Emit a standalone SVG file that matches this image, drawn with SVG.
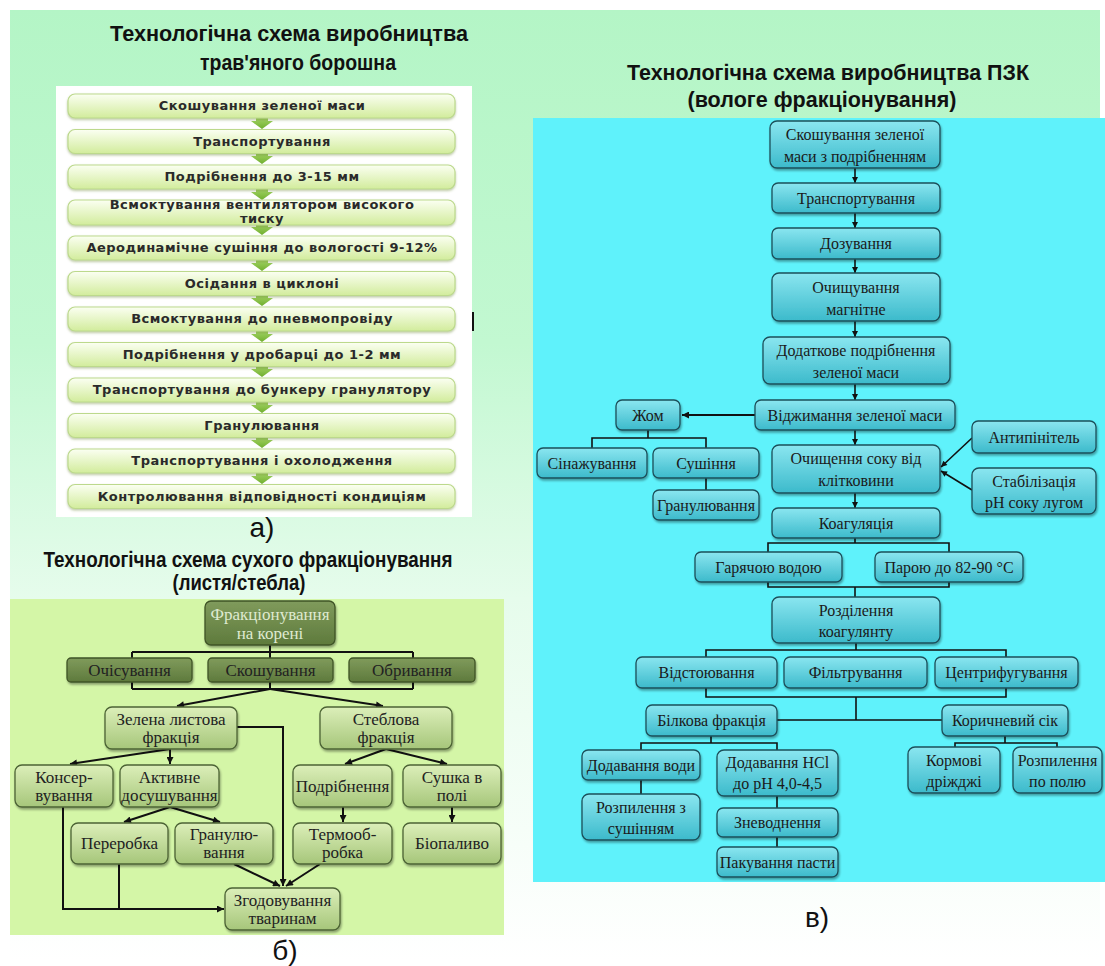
<svg xmlns="http://www.w3.org/2000/svg" width="1105" height="966" viewBox="0 0 1105 966">
<defs>
<linearGradient id="bgG" x1="0" y1="0" x2="0" y2="1">
<stop offset="0" stop-color="#b4f5c6"/><stop offset="0.35" stop-color="#c2f8d1"/><stop offset="0.62" stop-color="#e6fcec"/><stop offset="1" stop-color="#ffffff"/>
</linearGradient>
<linearGradient id="aG" x1="0" y1="0" x2="0" y2="1"><stop offset="0" stop-color="#fbfff2"/><stop offset="1" stop-color="#d2ec9c"/></linearGradient>
<linearGradient id="arG" x1="0" y1="0" x2="0" y2="1"><stop offset="0" stop-color="#a9d86a"/><stop offset="1" stop-color="#6fae2e"/></linearGradient>
<linearGradient id="bG" x1="0" y1="0" x2="0" y2="1"><stop offset="0" stop-color="#dcefb9"/><stop offset="1" stop-color="#a6c67a"/></linearGradient>
<linearGradient id="dG" x1="0" y1="0" x2="0" y2="1"><stop offset="0" stop-color="#809b5c"/><stop offset="1" stop-color="#5e7a3c"/></linearGradient>
<linearGradient id="cG" x1="0" y1="0" x2="0" y2="1"><stop offset="0" stop-color="#8ae6f0"/><stop offset="1" stop-color="#3cbacb"/></linearGradient>
<filter id="sh" x="-10%" y="-10%" width="120%" height="130%"><feDropShadow dx="1" dy="2" stdDeviation="1.2" flood-color="#000" flood-opacity="0.35"/></filter>
<filter id="shA" x="-5%" y="-10%" width="110%" height="140%"><feDropShadow dx="0" dy="1.5" stdDeviation="1.2" flood-color="#6d8a3a" flood-opacity="0.45"/></filter>
<marker id="ah" viewBox="0 0 10 10" refX="10" refY="5" markerWidth="8" markerHeight="7" markerUnits="userSpaceOnUse" orient="auto"><path d="M0,0 L10,5 L0,10 z" fill="#111"/></marker>
<marker id="ahc" viewBox="0 0 10 10" refX="10" refY="5" markerWidth="8" markerHeight="6" markerUnits="userSpaceOnUse" orient="auto"><path d="M0,0 L10,5 L0,10 z" fill="#111"/></marker>
<style>
.ttl{font-family:"Liberation Sans",Arial,sans-serif;font-weight:bold;font-size:22px;fill:#111;text-anchor:middle}
.lbl{font-family:"Liberation Sans",Arial,sans-serif;font-size:28px;fill:#111;text-anchor:middle}
.ab{fill:url(#aG);stroke:#bcd98c;stroke-width:1.2;filter:url(#shA)}
.at{font-family:"DejaVu Sans",Verdana,sans-serif;font-weight:bold;font-size:13px;letter-spacing:0.5px;fill:#2a2a2a;text-anchor:middle}
.arr{fill:url(#arG)}
.bb{fill:url(#bG);stroke:#4c6334;stroke-width:1.3;filter:url(#sh)}
.bd{fill:url(#dG);stroke:#3f5426;stroke-width:1.3;filter:url(#sh)}
.bt{font-family:"Liberation Serif","Times New Roman",serif;font-size:17px;fill:#222;text-anchor:middle}
.btl{font-family:"Liberation Serif","Times New Roman",serif;font-size:17px;fill:#dfead0;text-anchor:middle}
.cb{fill:url(#cG);stroke:#1b4f5a;stroke-width:1.3;filter:url(#sh)}
.ct{font-family:"Liberation Serif","Times New Roman",serif;font-size:16px;fill:#1a1a1a;text-anchor:middle}
.ln{fill:none;stroke:#111;stroke-width:2}
.lnc{fill:none;stroke:#111;stroke-width:1.6}
</style>
</defs>

<g id="background">
<rect x="0" y="0" width="1105" height="966" fill="#ffffff"/>
<rect x="10" y="10" width="1090" height="950" fill="url(#bgG)"/>
<rect x="56" y="86" width="416" height="431" fill="#ffffff"/>
<rect x="10" y="599" width="494" height="336" fill="#d4f6a7"/>
<rect x="533" y="118" width="572" height="764" fill="#5ff2fb"/>
<rect x="472" y="312" width="2" height="19" fill="#111"/>
</g>

<g id="titles">
<text class="ttl" x="289" y="41" textLength="358" lengthAdjust="spacingAndGlyphs">Технологічна схема виробництва</text>
<text class="ttl" x="298" y="70" textLength="196" lengthAdjust="spacingAndGlyphs">трав'яного борошна</text>
<text class="ttl" x="248" y="567" font-size="20" textLength="409" lengthAdjust="spacingAndGlyphs">Технологічна схема сухого фракціонування</text>
<text class="ttl" x="239" y="590" font-size="20" textLength="133" lengthAdjust="spacingAndGlyphs">(листя/стебла)</text>
<text class="ttl" x="828" y="80" textLength="402" lengthAdjust="spacingAndGlyphs">Технологічна схема виробництва ПЗК</text>
<text class="ttl" x="822" y="107" textLength="269" lengthAdjust="spacingAndGlyphs">(вологе фракціонування)</text>
<text class="lbl" x="262" y="537">а)</text>
<text class="lbl" x="285" y="960">б)</text>
<text class="lbl" x="817" y="927" font-size="26">в)</text>
</g>

<!-- Panel a -->
<g id="a-arrows">
<polygon class="arr" points="256,117 268,117 268,121 273,121 262,129 251,121 256,121"/>
<polygon class="arr" points="256,152 268,152 268,156 273,156 262,164 251,156 256,156"/>
<polygon class="arr" points="256,188 268,188 268,192 273,192 262,200 251,192 256,192"/>
<polygon class="arr" points="256,223 268,223 268,227 273,227 262,235 251,227 256,227"/>
<polygon class="arr" points="256,259 268,259 268,263 273,263 262,271 251,263 256,263"/>
<polygon class="arr" points="256,294 268,294 268,298 273,298 262,306 251,298 256,298"/>
<polygon class="arr" points="256,330 268,330 268,334 273,334 262,342 251,334 256,334"/>
<polygon class="arr" points="256,365 268,365 268,369 273,369 262,377 251,369 256,369"/>
<polygon class="arr" points="256,401 268,401 268,405 273,405 262,413 251,405 256,405"/>
<polygon class="arr" points="256,436 268,436 268,440 273,440 262,448 251,440 256,440"/>
<polygon class="arr" points="256,472 268,472 268,476 273,476 262,484 251,476 256,476"/>
</g>
<g id="a1"><rect class="ab" x="68" y="94" width="387" height="24" rx="7"/><text class="at" x="262" y="110">Скошування зеленої маси</text></g>
<g id="a2"><rect class="ab" x="68" y="129.5" width="387" height="24" rx="7"/><text class="at" x="262" y="146">Транспортування</text></g>
<g id="a3"><rect class="ab" x="68" y="165" width="387" height="24" rx="7"/><text class="at" x="262" y="181">Подрібнення до 3-15 мм</text></g>
<g id="a4"><rect class="ab" x="68" y="200" width="387" height="25" rx="7"/><text class="at" x="262" y="208.5" font-size="11.5">Всмоктування вентилятором високого</text><text class="at" x="262" y="222.5" font-size="10.5">тиску</text></g>
<g id="a5"><rect class="ab" x="68" y="236" width="387" height="24" rx="7"/><text class="at" x="262" y="252">Аеродинамічне сушіння  до вологості 9-12%</text></g>
<g id="a6"><rect class="ab" x="68" y="271.5" width="387" height="24" rx="7"/><text class="at" x="262" y="288">Осідання в циклоні</text></g>
<g id="a7"><rect class="ab" x="68" y="307" width="387" height="24" rx="7"/><text class="at" x="262" y="323">Всмоктування до пневмопровіду</text></g>
<g id="a8"><rect class="ab" x="68" y="342.5" width="387" height="24" rx="7"/><text class="at" x="262" y="359">Подрібнення у дробарці до 1-2 мм</text></g>
<g id="a9"><rect class="ab" x="68" y="378" width="387" height="24" rx="7"/><text class="at" x="262" y="394">Транспортування до бункеру гранулятору</text></g>
<g id="a10"><rect class="ab" x="68" y="413.5" width="387" height="24" rx="7"/><text class="at" x="262" y="430">Гранулювання</text></g>
<g id="a11"><rect class="ab" x="68" y="449" width="387" height="24" rx="7"/><text class="at" x="262" y="465">Транспортування і охолодження</text></g>
<g id="a12"><rect class="ab" x="68" y="484.5" width="387" height="24" rx="7"/><text class="at" x="262" y="501">Контролювання відповідності кондиціям</text></g>

<!-- Panel b connectors -->
<g id="b-connectors">
<path class="ln" d="M270,645 V689 M132,652 H413 M132,652 V689 M413,652 V689 M132,689 H413"/>
<path class="ln" d="M270,689 L177,706" marker-end="url(#ah)"/>
<path class="ln" d="M270,689 L383,706" marker-end="url(#ah)"/>
<path class="ln" d="M170,749 L70,764" marker-end="url(#ah)"/>
<path class="ln" d="M170,749 V764" marker-end="url(#ah)"/>
<path class="ln" d="M170,807 L124,822" marker-end="url(#ah)"/>
<path class="ln" d="M170,807 L220,822" marker-end="url(#ah)"/>
<path class="ln" d="M386,749 L345,764" marker-end="url(#ah)"/>
<path class="ln" d="M386,749 L447,764" marker-end="url(#ah)"/>
<path class="ln" d="M343,807 V822" marker-end="url(#ah)"/>
<path class="ln" d="M452,807 V822" marker-end="url(#ah)"/>
<path class="ln" d="M237,727 H283 V886" marker-end="url(#ah)"/>
<path class="ln" d="M234,864 L280,886" marker-end="url(#ah)"/>
<path class="ln" d="M320,864 L286,886" marker-end="url(#ah)"/>
<path class="ln" d="M63,807 V909 H224" marker-end="url(#ah)"/>
<path class="ln" d="M119,864 V909"/>
</g>
<g id="b-root"><rect class="bd" x="205" y="601" width="130" height="44" rx="6"/><text class="btl" x="270" y="620">Фракціонування</text><text class="btl" x="270" y="639">на корені</text></g>
<g id="b-ochis"><rect class="bd" x="67" y="658" width="125" height="24" rx="4"/><text class="bt" x="129.5" y="676">Очісування</text></g>
<g id="b-skosh"><rect class="bd" x="208" y="658" width="125" height="24" rx="4"/><text class="bt" x="270.5" y="676">Скошування</text></g>
<g id="b-obryv"><rect class="bd" x="349" y="658" width="126" height="24" rx="4"/><text class="bt" x="412" y="676">Обривання</text></g>
<g id="b-zel"><rect class="bb" x="105" y="707" width="132" height="42" rx="7"/><text class="bt" x="171" y="725">Зелена листова</text><text class="bt" x="171" y="743">фракція</text></g>
<g id="b-steb"><rect class="bb" x="320" y="707" width="132" height="42" rx="7"/><text class="bt" x="386" y="725">Стеблова</text><text class="bt" x="386" y="743">фракція</text></g>
<g id="b-kons"><rect class="bb" x="15" y="765" width="98" height="42" rx="7"/><text class="bt" x="64" y="783">Консер-</text><text class="bt" x="64" y="801">вування</text></g>
<g id="b-aktyv"><rect class="bb" x="120" y="765" width="99" height="42" rx="7"/><text class="bt" x="169.5" y="783">Активне</text><text class="bt" x="169.5" y="801">досушування</text></g>
<g id="b-pererob"><rect class="bb" x="71" y="823" width="97" height="41" rx="7"/><text class="bt" x="119.5" y="849">Переробка</text></g>
<g id="b-granul"><rect class="bb" x="175" y="823" width="98" height="41" rx="7"/><text class="bt" x="224" y="840">Гранулю-</text><text class="bt" x="224" y="858">вання</text></g>
<g id="b-podr"><rect class="bb" x="293" y="765" width="99" height="42" rx="7"/><text class="bt" x="342.5" y="792">Подрібнення</text></g>
<g id="b-sushka"><rect class="bb" x="403" y="765" width="98" height="42" rx="7"/><text class="bt" x="452" y="783">Сушка в</text><text class="bt" x="452" y="801">полі</text></g>
<g id="b-termo"><rect class="bb" x="293" y="823" width="99" height="41" rx="7"/><text class="bt" x="342.5" y="840">Термооб-</text><text class="bt" x="342.5" y="858">робка</text></g>
<g id="b-biopal"><rect class="bb" x="403" y="823" width="98" height="41" rx="7"/><text class="bt" x="452" y="849">Біопаливо</text></g>
<g id="b-zgod"><rect class="bb" x="225" y="888" width="115" height="42" rx="7"/><text class="bt" x="282.5" y="906">Згодовування</text><text class="bt" x="282.5" y="924">тваринам</text></g>

<!-- Panel c connectors -->
<g id="c-connectors">
<path class="lnc" d="M855,168 V183" marker-end="url(#ahc)"/>
<path class="lnc" d="M855,213 V228" marker-end="url(#ahc)"/>
<path class="lnc" d="M855,259 V273" marker-end="url(#ahc)"/>
<path class="lnc" d="M855,321 V337" marker-end="url(#ahc)"/>
<path class="lnc" d="M855,384 V400" marker-end="url(#ahc)"/>
<path class="lnc" d="M855,430 V445" marker-end="url(#ahc)"/>
<path class="lnc" d="M855,493 V508" marker-end="url(#ahc)"/>
<path class="ln" d="M755,415 H682" stroke-width="2.4" marker-end="url(#ah)"/>
<path class="lnc" d="M648,430 V438 M592,448 V438 H706 V448 M706,477 V490"/>
<path class="lnc" d="M972,438 L941,467" marker-end="url(#ahc)"/>
<path class="lnc" d="M972,490 L941,471" marker-end="url(#ahc)"/>
<path class="lnc" d="M855,538 V543 M768,552 V543 H949 V552 M768,582 V587 H949 V582 M855,587 V597"/>
<path class="lnc" d="M856,643 V650 M706,657 V650 H1006 V657 M706,688 V697 H1006 V688 M856,697 V720 M777,720 H942"/>
<path class="lnc" d="M711,736 V743 M641,750 V743 H777 V750 M641,780 V794 M777,796 V808 M777,837 V847"/>
<path class="lnc" d="M1005,736 V743 M955,747 V743 H1057 V747"/>
</g>
<g id="c1"><rect class="cb" x="770" y="121" width="170" height="47" rx="7"/><text class="ct" x="855" y="140">Скошування зеленої</text><text class="ct" x="855" y="162">маси з подрібненням</text></g>
<g id="c2"><rect class="cb" x="772" y="183" width="168" height="30" rx="6"/><text class="ct" x="856" y="204">Транспортування</text></g>
<g id="c3"><rect class="cb" x="772" y="228" width="168" height="31" rx="6"/><text class="ct" x="856" y="249">Дозування</text></g>
<g id="c4"><rect class="cb" x="772" y="273" width="168" height="48" rx="7"/><text class="ct" x="856" y="293">Очищування</text><text class="ct" x="856" y="315">магнітне</text></g>
<g id="c5"><rect class="cb" x="763" y="337" width="187" height="47" rx="7"/><text class="ct" x="856" y="356">Додаткове подрібнення</text><text class="ct" x="856" y="378">зеленої маси</text></g>
<g id="c6"><rect class="cb" x="755" y="400" width="200" height="30" rx="6"/><text class="ct" x="855" y="421">Віджимання зеленої маси</text></g>
<g id="c-zhom"><rect class="cb" x="616" y="400" width="64" height="30" rx="6"/><text class="ct" x="648" y="421">Жом</text></g>
<g id="c-sinazh"><rect class="cb" x="537" y="448" width="110" height="30" rx="6"/><text class="ct" x="592" y="469">Сінажування</text></g>
<g id="c-sush"><rect class="cb" x="653" y="448" width="106" height="30" rx="6"/><text class="ct" x="706" y="469">Сушіння</text></g>
<g id="c-granul"><rect class="cb" x="653" y="490" width="106" height="30" rx="6"/><text class="ct" x="706" y="511">Гранулювання</text></g>
<g id="c7"><rect class="cb" x="772" y="445" width="168" height="48" rx="7"/><text class="ct" x="856" y="464">Очищення соку від</text><text class="ct" x="856" y="486">клітковини</text></g>
<g id="c-anty"><rect class="cb" x="972" y="421" width="124" height="32" rx="6"/><text class="ct" x="1034" y="443">Антипінітель</text></g>
<g id="c-stab"><rect class="cb" x="972" y="468" width="124" height="46" rx="7"/><text class="ct" x="1034" y="487">Стабілізація</text><text class="ct" x="1034" y="508">pH соку лугом</text></g>
<g id="c8"><rect class="cb" x="772" y="508" width="168" height="30" rx="6"/><text class="ct" x="856" y="529">Коагуляція</text></g>
<g id="c-hot"><rect class="cb" x="695" y="552" width="147" height="30" rx="6"/><text class="ct" x="768.5" y="573">Гарячою водою</text></g>
<g id="c-steam"><rect class="cb" x="875" y="552" width="148" height="30" rx="6"/><text class="ct" x="949" y="573">Парою до 82-90 °С</text></g>
<g id="c9"><rect class="cb" x="772" y="597" width="168" height="46" rx="7"/><text class="ct" x="856" y="616">Розділення</text><text class="ct" x="856" y="637">коагулянту</text></g>
<g id="c-vidst"><rect class="cb" x="636" y="657" width="141" height="31" rx="6"/><text class="ct" x="706.5" y="678">Відстоювання</text></g>
<g id="c-filtr"><rect class="cb" x="784" y="657" width="143" height="31" rx="6"/><text class="ct" x="855.5" y="678">Фільтрування</text></g>
<g id="c-centr"><rect class="cb" x="935" y="657" width="143" height="31" rx="6"/><text class="ct" x="1006.5" y="678">Центрифугування</text></g>
<g id="c-bilk"><rect class="cb" x="646" y="705" width="131" height="31" rx="6"/><text class="ct" x="711.5" y="726">Білкова фракція</text></g>
<g id="c-koryc"><rect class="cb" x="942" y="705" width="126" height="31" rx="6"/><text class="ct" x="1005" y="726">Коричневий сік</text></g>
<g id="c-vody"><rect class="cb" x="582" y="750" width="118" height="30" rx="6"/><text class="ct" x="641" y="771">Додавання води</text></g>
<g id="c-hcl"><rect class="cb" x="717" y="750" width="121" height="46" rx="7"/><text class="ct" x="777.5" y="768">Додавання HCl</text><text class="ct" x="777.5" y="789">до pH 4,0-4,5</text></g>
<g id="c-rozp1"><rect class="cb" x="582" y="794" width="118" height="46" rx="7"/><text class="ct" x="641" y="813">Розпилення з</text><text class="ct" x="641" y="834">сушінням</text></g>
<g id="c-znev"><rect class="cb" x="717" y="808" width="121" height="29" rx="6"/><text class="ct" x="777.5" y="828">Зневоднення</text></g>
<g id="c-pakuv"><rect class="cb" x="717" y="847" width="121" height="30" rx="6"/><text class="ct" x="777.5" y="868">Пакування пасти</text></g>
<g id="c-kormovi"><rect class="cb" x="908" y="747" width="92" height="46" rx="7"/><text class="ct" x="954" y="766">Кормові</text><text class="ct" x="954" y="787">дріжджі</text></g>
<g id="c-rozp2"><rect class="cb" x="1013" y="747" width="89" height="46" rx="7"/><text class="ct" x="1057.5" y="766">Розпилення</text><text class="ct" x="1057.5" y="787">по полю</text></g>
</svg>
